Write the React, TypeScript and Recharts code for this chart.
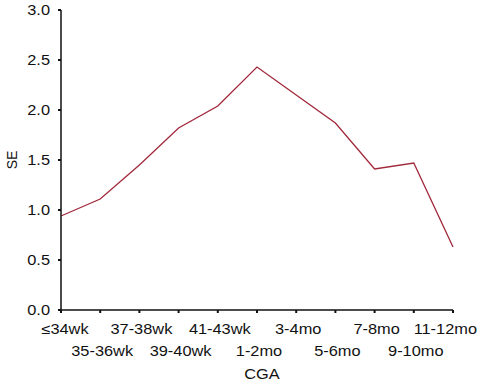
import React from 'react';
import { LineChart, Line, XAxis, YAxis, Label } from 'recharts';

const categories = ['≤34wk', '35-36wk', '37-38wk', '39-40wk', '41-43wk', '1-2mo', '3-4mo', '5-6mo', '7-8mo', '9-10mo', '11-12mo'];
const seValues = [0.94, 1.11, 1.45, 1.82, 2.04, 2.43, 2.15, 1.87, 1.41, 1.47, 0.63];
const yTicks = [0, 0.5, 1.0, 1.5, 2.0, 2.5, 3.0];

const data = categories.map((c, i) => ({ cga: c, se: seValues[i] }));

const FONT = '"Liberation Sans", Arial, sans-serif';
const SX = 1.17;

const XTick = (props: any) => {
  const { x, y, payload, index } = props;
  const row = index % 2 === 0 ? 0 : 1;
  const cy = y + 14 + row * 22;
  const last = index === categories.length - 1;
  const first = index === 0;
  const tx = last ? 477 : first ? x + 4 : x + 2;
  return (
    <g transform={`translate(${tx},${cy})`}>
      <text transform={`scale(${SX},1)`} textAnchor={last ? 'end' : 'middle'} dy="0.355em" fontSize={14} fontFamily={FONT} fill="#111">
        {payload.value}
      </text>
    </g>
  );
};

const YTick = (props: any) => {
  const { x, y, payload } = props;
  return (
    <g transform={`translate(${x},${y})`}>
      <text transform={`scale(${SX},1)`} textAnchor="end" dy="0.355em" fontSize={14} fontFamily={FONT} fill="#111">
        {Number(payload.value).toFixed(1)}
      </text>
    </g>
  );
};

export default function App() {
  return (
    <div style={{ position: 'absolute', left: 0, top: 0, width: 480, height: 385, background: '#fff' }}>
      <LineChart width={480} height={385} data={data} margin={{ top: 10, right: 27, bottom: 15, left: 0 }}>
        <XAxis
          dataKey="cga"
          height={60}
          interval={0}
          tick={<XTick />}
          tickSize={3}
          axisLine={{ stroke: '#111', strokeWidth: 1.5 }}
          tickLine={{ stroke: '#111', strokeWidth: 2 }}
        >
          <Label
            content={(p: any) => {
              const vb = p.viewBox;
              const cx = vb.x + vb.width / 2 + 5;
              return (
                <g transform={`translate(${cx},374)`}>
                  <text transform={`scale(${SX},1)`} textAnchor="middle" dy="0.355em" fontSize={14} fontFamily={FONT} fill="#111">
                    CGA
                  </text>
                </g>
              );
            }}
          />
        </XAxis>
        <YAxis
          width={61}
          domain={[0, 3]}
          ticks={yTicks}
          interval={0}
          tick={<YTick />}
          tickSize={3}
          tickMargin={8}
          axisLine={{ stroke: '#111', strokeWidth: 1.5 }}
          tickLine={{ stroke: '#111', strokeWidth: 2 }}
        >
          <Label
            content={() => (
              <text
                x={12}
                y={160}
                transform="rotate(-90,12,160)"
                textAnchor="middle"
                dy="0.355em"
                fontSize={14}
                fontFamily={FONT}
                fill="#111"
              >
                SE
              </text>
            )}
          />
        </YAxis>
        <Line
          type="linear"
          dataKey="se"
          stroke="#a1283a"
          strokeWidth={1.3}
          dot={false}
          activeDot={false}
          isAnimationActive={false}
        />
      </LineChart>
    </div>
  );
}
